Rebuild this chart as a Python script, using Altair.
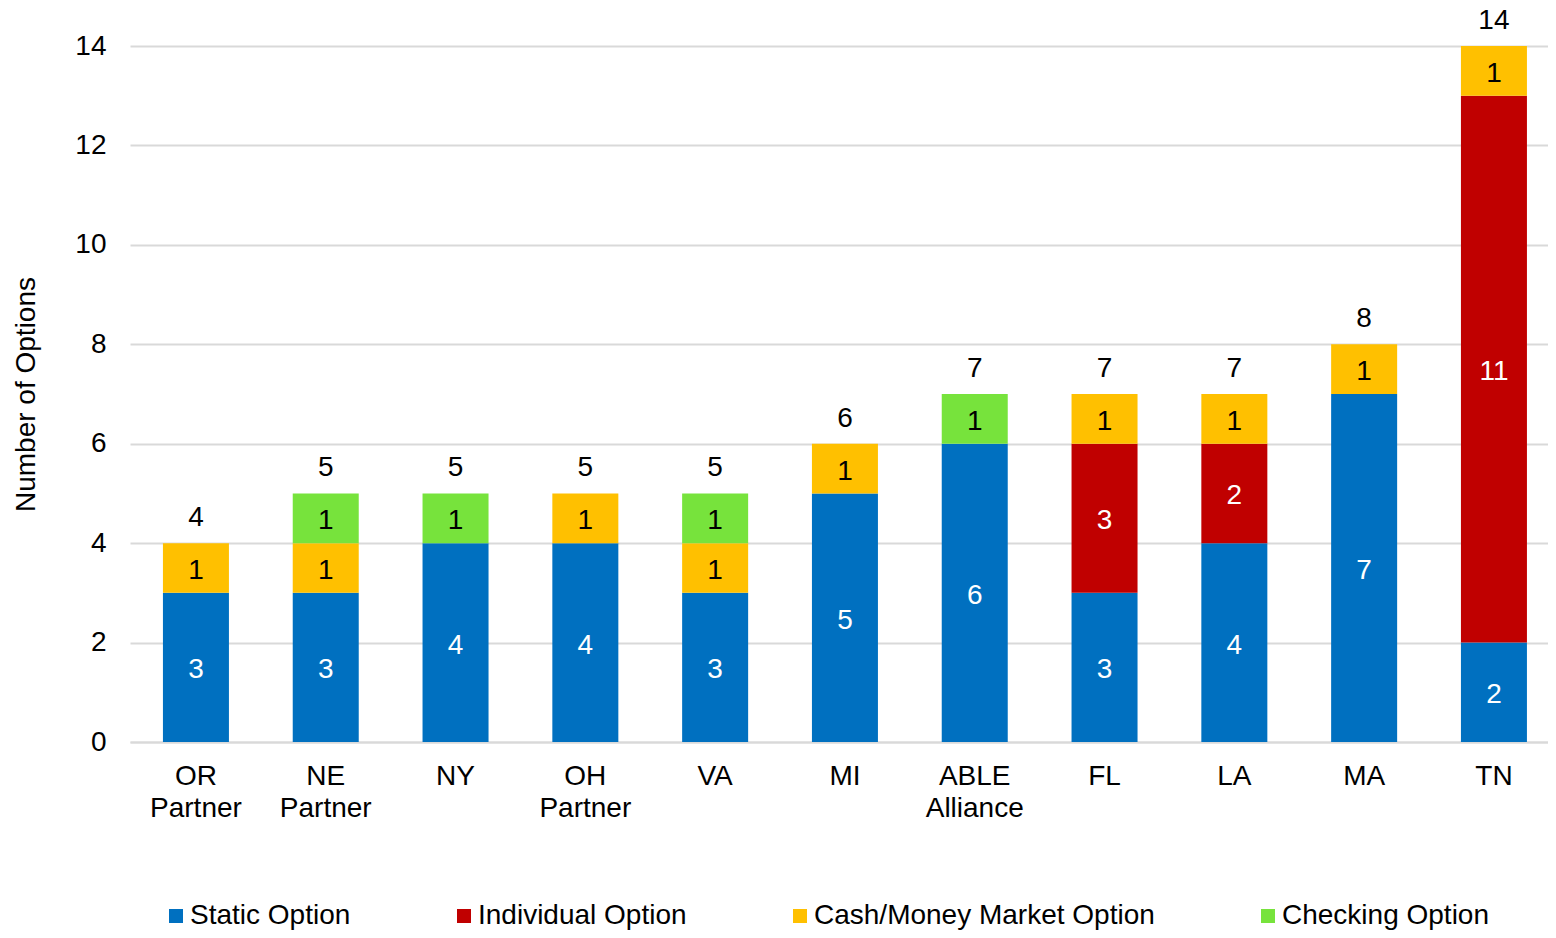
import altair as alt
import pandas as pd

states = ["OR Partner", "NE Partner", "NY", "OH Partner", "VA", "MI",
          "ABLE Alliance", "FL", "LA", "MA", "TN"]
series_names = ["Static Option", "Individual Option", "Cash/Money Market Option", "Checking Option"]
static_opt = [3, 3, 4, 4, 3, 5, 6, 3, 4, 7, 2]
individual_opt = [0, 0, 0, 0, 0, 0, 0, 3, 2, 0, 11]
cash_opt = [1, 1, 0, 1, 1, 1, 0, 1, 1, 1, 1]
checking_opt = [0, 1, 1, 0, 1, 0, 1, 0, 0, 0, 0]
colors = ["#0070C0", "#C00000", "#FFC000", "#77E33C"]

FONT = "Liberation Sans"
FS = 28

rows = []
for si, (name, vals) in enumerate(zip(series_names, [static_opt, individual_opt, cash_opt, checking_opt])):
    for st, v in zip(states, vals):
        rows.append({"state": st, "series": name, "order": si, "value": v})
df = pd.DataFrame(rows)
totals = pd.DataFrame({"state": states,
                       "total": [a + b + c + d for a, b, c, d in zip(static_opt, individual_opt, cash_opt, checking_opt)]})

xenc = alt.X("state:N", sort=states, title=None,
             scale=alt.Scale(paddingInner=0.4915, paddingOuter=0.208, align=0.61),
             axis=alt.Axis(labelAngle=0, labelExpr="split(datum.label, ' ')",
                           labelFontSize=FS, labelFont=FONT, labelColor="#000000",
                           labelPadding=20, labelLineHeight=32, ticks=False,
                           domainColor="#D9D9D9", domainWidth=2, labelBaseline="top"))
yscale = alt.Scale(domain=[0, 14], nice=False)

base = alt.Chart(df).transform_filter("datum.value > 0").transform_stack(
    stack="value", as_=["y0", "y1"], groupby=["state"], sort=[alt.SortField("order")]
)

bars = base.mark_bar().encode(
    x=xenc,
    y=alt.Y("y0:Q", scale=yscale, title="Number of Options",
            axis=alt.Axis(values=[0, 2, 4, 6, 8, 10, 12, 14], ticks=False, domain=False,
                          gridColor="#D9D9D9", gridWidth=2,
                          labelFontSize=FS, labelFont=FONT, labelColor="#000000", labelPadding=24,
                          titleFontSize=FS, titleFont=FONT, titleFontWeight="normal",
                          titleColor="#000000", titlePadding=34)),
    y2="y1:Q",
    color=alt.Color("series:N", scale=alt.Scale(domain=series_names, range=colors), title=None,
                    legend=alt.Legend(orient="none", direction="horizontal", legendX=32, legendY=856,
                                      columns=4, columnPadding=99, symbolType="square", symbolSize=196,
                                      symbolStrokeWidth=0, labelFontSize=FS, labelFont=FONT,
                                      labelColor="#000000", labelOffset=0, labelLimit=600)),
)

seg_text = base.transform_calculate(
    mid="(datum.y0 + datum.y1) / 2",
    tcol="(datum.series == 'Static Option' || datum.series == 'Individual Option') ? 'white' : 'black'",
).mark_text(font=FONT, fontSize=FS, baseline="middle", dy=3).encode(
    x=alt.X("state:N", sort=states),
    y=alt.Y("mid:Q", scale=yscale),
    text="value:Q",
    color=alt.Color("tcol:N", scale=None),
)

tot_text = alt.Chart(totals).mark_text(font=FONT, fontSize=FS, baseline="middle", dy=-25, color="#000000").encode(
    x=alt.X("state:N", sort=states),
    y=alt.Y("total:Q", scale=yscale),
    text="total:Q",
)

chart = alt.layer(bars, seg_text, tot_text).properties(
    width=1418, height=696,
    autosize=alt.AutoSizeParams(type="none"),
    padding={"left": 122, "top": 38, "right": 0, "bottom": 188},
).configure_view(stroke=None)

chart.save("out.html", embed_options={"renderer": "svg", "actions": False})
